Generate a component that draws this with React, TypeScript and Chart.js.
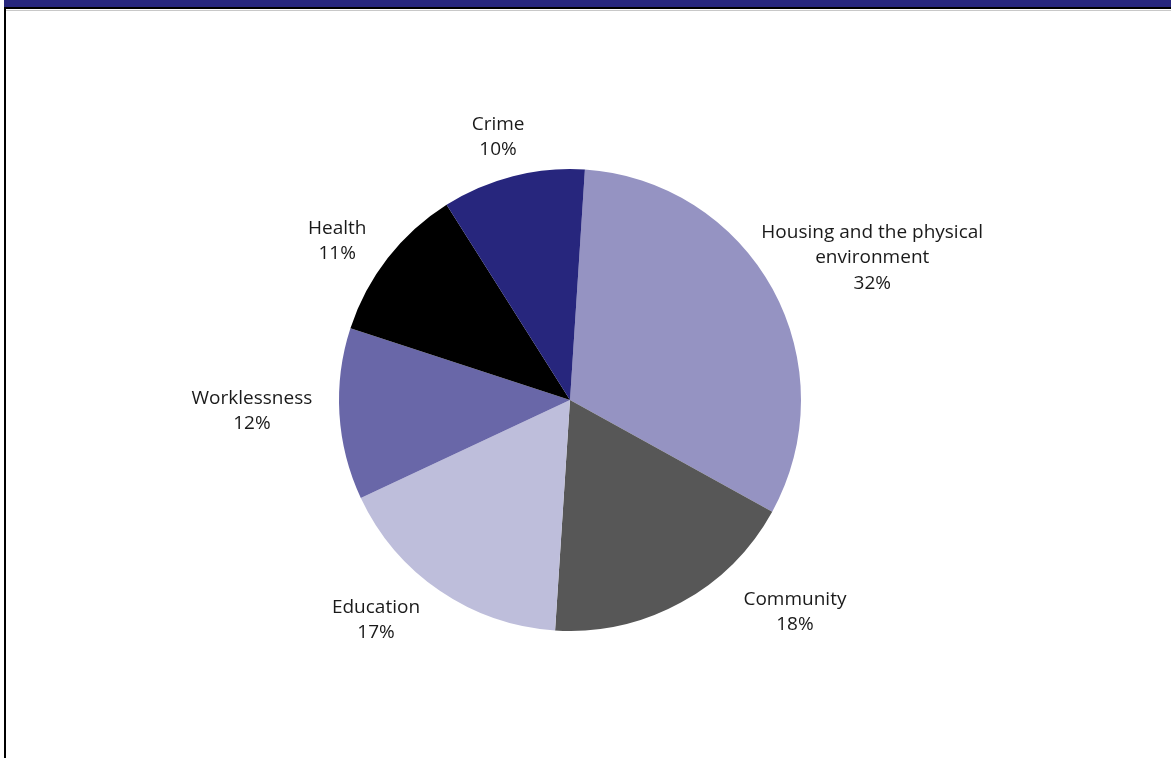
import React, { useEffect, useRef } from "react";
import { Chart, registerables } from "chart.js";

Chart.register(...registerables);

const categories = [
  "Housing and the physical environment",
  "Community",
  "Education",
  "Worklessness",
  "Health",
  "Crime",
];
const labelLines = [
  ["Housing and the physical", "environment"],
  ["Community"],
  ["Education"],
  ["Worklessness"],
  ["Health"],
  ["Crime"],
];
const shares = [32, 18, 17, 12, 11, 10];
const sliceColors = ["#9593c2", "#575757", "#bebedb", "#6967a8", "#000000", "#27267d"];

// label placement: direction (deg clockwise from top) and distance as a multiple of the radius
const labelAngles = [64.8, 133.3, 221.4, 268, 304.3, 344.7];
const labelDist = [1.446, 1.338, 1.27, 1.378, 1.22, 1.18];

const framePlugin = {
  id: "frame",
  beforeDraw(chart: any) {
    const { ctx, width, height } = chart;
    ctx.save();
    ctx.fillStyle = "#ffffff";
    ctx.fillRect(0, 0, width, height);
    ctx.fillStyle = "#27267d";
    ctx.fillRect(4, 0, width - 4, 7);
    ctx.fillStyle = "#000000";
    ctx.fillRect(4, 7, width - 4, 2);
    ctx.fillStyle = "#c8c8c8";
    ctx.fillRect(6, 10, width - 6, 1);
    ctx.fillStyle = "#000000";
    ctx.fillRect(4, 7, 2, height - 7);
    ctx.restore();
  },
};

const labelPlugin = {
  id: "sliceLabels",
  afterDatasetsDraw(chart: any) {
    const { ctx } = chart;
    const meta = chart.getDatasetMeta(0);
    ctx.save();
    ctx.font = "19px 'Open Sans'";
    ctx.fillStyle = "#1a1a1a";
    ctx.textAlign = "center";
    ctx.textBaseline = "middle";
    const lh = 25.5;
    meta.data.forEach((arc: any, i: number) => {
      const { x, y, outerRadius } = arc.getProps(["x", "y", "outerRadius"], true);
      const a = (labelAngles[i] * Math.PI) / 180;
      const cx = x + Math.sin(a) * outerRadius * labelDist[i];
      const cy = y - Math.cos(a) * outerRadius * labelDist[i];
      const lines = [...labelLines[i], shares[i] + "%"];
      const top = cy - ((lines.length - 1) * lh) / 2;
      lines.forEach((t, k) => ctx.fillText(t, cx, top + k * lh));
    });
    ctx.restore();
  },
};

export default function App() {
  const ref = useRef<HTMLCanvasElement>(null);
  useEffect(() => {
    document.body.style.margin = "0";
    const chart = new Chart(ref.current!, {
      type: "pie",
      data: {
        labels: categories,
        datasets: [
          {
            data: shares,
            backgroundColor: sliceColors,
            borderWidth: 0,
          },
        ],
      },
      options: {
        animation: false,
        responsive: false,
        rotation: 3.7,
        layout: { padding: { top: 169, bottom: 127, left: 200, right: 231 } },
        plugins: { legend: { display: false }, tooltip: { enabled: false } },
      },
      plugins: [framePlugin, labelPlugin],
    });
    return () => chart.destroy();
  }, []);
  return (
    <div style={{ width: 1171, height: 758 }}>
      <canvas ref={ref} width={1171} height={758} style={{ display: "block" }} />
    </div>
  );
}
